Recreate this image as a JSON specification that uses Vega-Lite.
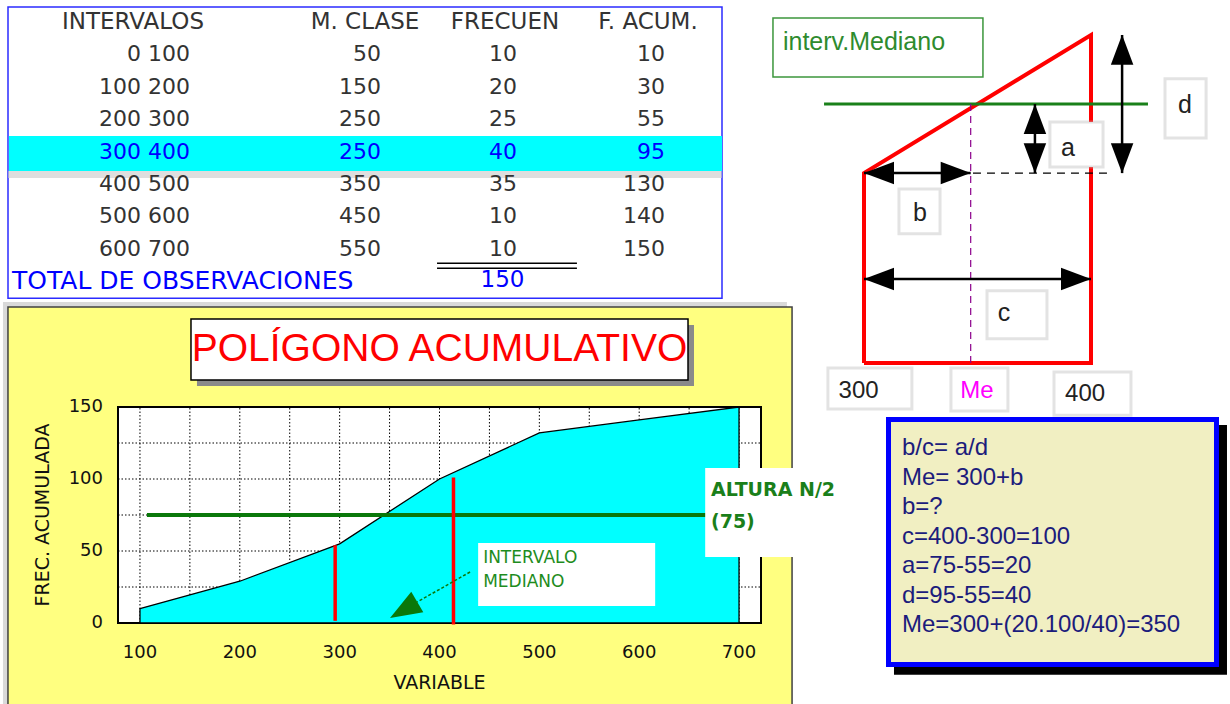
{
"$schema": "https://vega.github.io/schema/vega-lite/v6.json",
"width": 1230, "height": 704, "autosize": {"type": "none"}, "padding": 0, "background": "#ffffff",
"config": {"view": {"stroke": null}, "font": "DejaVu Sans", "axis": {"disable": true}},
"resolve": {"scale": {"x": "independent", "y": "independent"}},
"layer": [
 {
  "data": {"values": [
   {"fila": 1, "intervalo": "0 100", "marca": 50, "frec": 10, "acum": 10},
   {"fila": 2, "intervalo": "100 200", "marca": 150, "frec": 20, "acum": 30},
   {"fila": 3, "intervalo": "200 300", "marca": 250, "frec": 25, "acum": 55},
   {"fila": 4, "intervalo": "300 400", "marca": 250, "frec": 40, "acum": 95},
   {"fila": 5, "intervalo": "400 500", "marca": 350, "frec": 35, "acum": 130},
   {"fila": 6, "intervalo": "500 600", "marca": 450, "frec": 10, "acum": 140},
   {"fila": 7, "intervalo": "600 700", "marca": 550, "frec": 10, "acum": 150}
  ]},
  "layer": [
   {"data": {"values": [{}]}, "mark": {"type": "rect", "fill": "#ffffff", "stroke": "#2b2bff", "strokeWidth": 1.5},
    "encoding": {"x": {"datum": 0, "type": "quantitative", "scale": {"domain": [0,1,2,3,4,5], "range": [8,190,381,517,665,722], "zero": false, "nice": false}},
                 "x2": {"datum": 5},
                 "y": {"datum": -0.46, "type": "quantitative", "scale": {"domain": [0,8], "range": [22,281], "zero": false, "nice": false}},
                 "y2": {"datum": 8.53}}},
   {"data": {"values": [{}]}, "mark": {"type": "rect", "fill": "#c8c8c8", "opacity": 0.6},
    "encoding": {"x": {"datum": 0}, "x2": {"datum": 5}, "y": {"datum": 4.6}, "y2": {"datum": 4.82}}},
   {"data": {"values": [{}]}, "mark": {"type": "rect", "fill": "#00ffff"},
    "encoding": {"x": {"datum": 0.005}, "x2": {"datum": 5}, "y": {"datum": 3.52}, "y2": {"datum": 4.6}}},
   {"mark": {"type": "text", "align": "right", "baseline": "middle", "fontSize": 22},
    "encoding": {"x": {"datum": 1}, "y": {"field": "fila", "type": "quantitative"}, "text": {"field": "intervalo"},
                 "color": {"condition": {"test": "datum.fila === 4", "value": "#0000ff"}, "value": "#333333"}}},
   {"mark": {"type": "text", "align": "right", "baseline": "middle", "fontSize": 22},
    "encoding": {"x": {"datum": 2}, "y": {"field": "fila", "type": "quantitative"}, "text": {"field": "marca"},
                 "color": {"condition": {"test": "datum.fila === 4", "value": "#0000ff"}, "value": "#333333"}}},
   {"mark": {"type": "text", "align": "right", "baseline": "middle", "fontSize": 22},
    "encoding": {"x": {"datum": 3}, "y": {"field": "fila", "type": "quantitative"}, "text": {"field": "frec"},
                 "color": {"condition": {"test": "datum.fila === 4", "value": "#0000ff"}, "value": "#333333"}}},
   {"mark": {"type": "text", "align": "right", "baseline": "middle", "fontSize": 22},
    "encoding": {"x": {"datum": 4}, "y": {"field": "fila", "type": "quantitative"}, "text": {"field": "acum"},
                 "color": {"condition": {"test": "datum.fila === 4", "value": "#0000ff"}, "value": "#333333"}}},
   {"data": {"values": [{}]}, "mark": {"type": "rule", "stroke": "#000000", "strokeWidth": 1.5},
    "encoding": {"x": {"datum": 2.412}, "x2": {"datum": 3.405}, "y": {"datum": 7.453}}},
   {"data": {"values": [{}]}, "mark": {"type": "rule", "stroke": "#000000", "strokeWidth": 1.5},
    "encoding": {"x": {"datum": 2.412}, "x2": {"datum": 3.405}, "y": {"datum": 7.608}}},
   {"data": {"values": [{"etiqueta": "TOTAL DE OBSERVACIONES"}]}, "mark": {"type": "text", "align": "left", "baseline": "middle", "fontSize": 25, "fill": "#0000ff"},
    "encoding": {"x": {"datum": 0.022}, "y": {"datum": 8}, "text": {"field": "etiqueta"}}},
   {"transform": [{"aggregate": [{"op": "sum", "field": "frec", "as": "total"}]}],
    "mark": {"type": "text", "align": "right", "baseline": "middle", "fontSize": 23, "fill": "#0000ff"},
    "encoding": {"x": {"datum": 3.05}, "y": {"datum": 7.97}, "text": {"field": "total", "type": "quantitative"}}}
  ]
 },
 {
  "data": {"values": [
   {"col": 1, "encabezado": "INTERVALOS"},
   {"col": 2, "encabezado": "M. CLASE"},
   {"col": 3, "encabezado": "FRECUEN"},
   {"col": 4, "encabezado": "F. ACUM."}
  ]},
  "mark": {"type": "text", "align": "center", "baseline": "middle", "fontSize": 23, "fill": "#333333"},
  "encoding": {"x": {"field": "col", "type": "quantitative", "scale": {"domain": [0,1,2,3,4,5], "range": [8,133,365,505,648,722], "zero": false, "nice": false}},
               "y": {"datum": 0, "type": "quantitative", "scale": {"domain": [0,8], "range": [22,281], "zero": false, "nice": false}},
               "text": {"field": "encabezado"}}
 },
 {
  "data": {"values": [
   {"variable": 100, "frec": 10}, {"variable": 200, "frec": 29}, {"variable": 300, "frec": 55},
   {"variable": 400, "frec": 100}, {"variable": 500, "frec": 132}, {"variable": 600, "frec": 141},
   {"variable": 700, "frec": 150}
  ]},
  "layer": [
   {"data": {"values": [{}]}, "mark": {"type": "rect", "fill": "#b4b4b4", "opacity": 0.5},
    "encoding": {"x": {"datum": -37.2, "type": "quantitative", "scale": {"domain": [78,722], "range": [118,761], "zero": false, "nice": false}},
                 "x2": {"datum": 748},
                 "y": {"datum": -60, "type": "quantitative", "scale": {"domain": [0,150], "range": [623,407], "zero": false, "nice": false}},
                 "y2": {"datum": 222.9}}},
   {"data": {"values": [{}]}, "mark": {"type": "rect", "fill": "#ffff80", "stroke": "#404040", "strokeWidth": 1.5},
    "encoding": {"x": {"datum": -32.2}, "x2": {"datum": 753.1}, "y": {"datum": -60}, "y2": {"datum": 219.4}}},
   {"data": {"values": [{}]}, "mark": {"type": "rect", "fill": "#8a8a8a"},
    "encoding": {"x": {"datum": 157.1}, "x2": {"datum": 654.9}, "y": {"datum": 164.6}, "y2": {"datum": 207}}},
   {"data": {"values": [{}]}, "mark": {"type": "rect", "fill": "#ffffff", "stroke": "#000000", "strokeWidth": 1.5},
    "encoding": {"x": {"datum": 151.1}, "x2": {"datum": 648.9}, "y": {"datum": 168.75}, "y2": {"datum": 211.1}}},
   {"data": {"values": [{"titulo": "POLÍGONO ACUMULATIVO"}]}, "mark": {"type": "text", "font": "Liberation Sans", "fontSize": 39, "fill": "#ff0000", "align": "center", "baseline": "middle"},
    "encoding": {"x": {"datum": 400}, "y": {"datum": 190.3}, "text": {"field": "titulo"}}},
   {"data": {"values": [{}]}, "mark": {"type": "rect", "fill": "#ffffff", "stroke": "#000000", "strokeWidth": 2},
    "encoding": {"x": {"datum": 78}, "x2": {"datum": 722}, "y": {"datum": 0}, "y2": {"datum": 150}}},
   {"data": {"values": [{"g": 100},{"g": 150},{"g": 200},{"g": 250},{"g": 300},{"g": 350},{"g": 400},{"g": 450},{"g": 500},{"g": 550},{"g": 600},{"g": 650},{"g": 700}]},
    "mark": {"type": "rule", "stroke": "#000000", "strokeWidth": 1, "strokeDash": [1.5, 2]},
    "encoding": {"x": {"field": "g", "type": "quantitative"}, "y": {"datum": 0}, "y2": {"datum": 150}}},
   {"data": {"values": [{"g": 25},{"g": 50},{"g": 75},{"g": 100},{"g": 125}]},
    "mark": {"type": "rule", "stroke": "#000000", "strokeWidth": 1, "strokeDash": [1.5, 2]},
    "encoding": {"y": {"field": "g", "type": "quantitative"}, "x": {"datum": 78}, "x2": {"datum": 722}}},
   {"mark": {"type": "area", "fill": "#00ffff", "stroke": "#000000", "strokeWidth": 1.3},
    "encoding": {"x": {"field": "variable", "type": "quantitative"}, "y": {"field": "frec", "type": "quantitative"}, "y2": {"datum": 0}}},
   {"data": {"values": [{}]}, "mark": {"type": "rule", "stroke": "#0a780a", "strokeWidth": 4},
    "encoding": {"x": {"datum": 107}, "x2": {"datum": 700}, "y": {"datum": 75}}},
   {"data": {"values": [{}]}, "mark": {"type": "rule", "stroke": "#ff0000", "strokeWidth": 3.5},
    "encoding": {"x": {"datum": 295.5}, "y": {"datum": 1.5}, "y2": {"datum": 54}}},
   {"data": {"values": [{}]}, "mark": {"type": "rule", "stroke": "#ff0000", "strokeWidth": 3.5},
    "encoding": {"x": {"datum": 414}, "y": {"datum": -1}, "y2": {"datum": 101}}},
   {"data": {"values": [{}]}, "mark": {"type": "rect", "fill": "#ffffff"},
    "encoding": {"x": {"datum": 438.7}, "x2": {"datum": 616}, "y": {"datum": 11.8}, "y2": {"datum": 55.6}}},
   {"data": {"values": [{"t": "INTERVALO"}]}, "mark": {"type": "text", "fontSize": 17, "fill": "#1e8c1e", "align": "left", "baseline": "middle"},
    "encoding": {"x": {"datum": 443.7}, "y": {"datum": 45.1}, "text": {"field": "t"}}},
   {"data": {"values": [{"t": "MEDIANO"}]}, "mark": {"type": "text", "fontSize": 17, "fill": "#1e8c1e", "align": "left", "baseline": "middle"},
    "encoding": {"x": {"datum": 443.7}, "y": {"datum": 28.5}, "text": {"field": "t"}}},
   {"data": {"values": [{}]}, "mark": {"type": "rule", "stroke": "#0a780a", "strokeWidth": 1.5, "strokeDash": [3, 2]},
    "encoding": {"x": {"datum": 430.6}, "y": {"datum": 35.4}, "x2": {"datum": 377.7}, "y2": {"datum": 14.6}}},
   {"data": {"values": [{}]}, "mark": {"type": "point", "shape": "M1,0L-1,-0.75L-1,0.75Z", "filled": true, "color": "#0a780a", "opacity": 1, "size": 1000, "angle": 149.5},
    "encoding": {"x": {"datum": 364.1}, "y": {"datum": 9.0}}},
   {"data": {"values": [{}]}, "mark": {"type": "rect", "fill": "#ffffff"},
    "encoding": {"x": {"datum": 666.1}, "x2": {"datum": 818.4}, "y": {"datum": 45.8}, "y2": {"datum": 107.6}}},
   {"data": {"values": [{"t": "ALTURA N/2"}]}, "mark": {"type": "text", "fontSize": 19, "fontWeight": "bold", "fill": "#1a7f1a", "align": "left", "baseline": "middle"},
    "encoding": {"x": {"datum": 671.9}, "y": {"datum": 92.4}, "text": {"field": "t"}}},
   {"data": {"values": [{"t": "(75)"}]}, "mark": {"type": "text", "fontSize": 19, "fontWeight": "bold", "fill": "#1a7f1a", "align": "left", "baseline": "middle"},
    "encoding": {"x": {"datum": 671.9}, "y": {"datum": 70.1}, "text": {"field": "t"}}},
   {"data": {"values": [{"v": 100},{"v": 200},{"v": 300},{"v": 400},{"v": 500},{"v": 600},{"v": 700}]},
    "mark": {"type": "text", "fontSize": 18, "fill": "#111111", "align": "center", "baseline": "middle"},
    "encoding": {"x": {"field": "v", "type": "quantitative"}, "y": {"datum": -20.8}, "text": {"field": "v", "type": "quantitative"}}},
   {"data": {"values": [{"v": 0},{"v": 50},{"v": 100},{"v": 150}]},
    "mark": {"type": "text", "fontSize": 18, "fill": "#111111", "align": "right", "baseline": "middle"},
    "encoding": {"y": {"field": "v", "type": "quantitative"}, "x": {"datum": 63}, "text": {"field": "v", "type": "quantitative"}}},
   {"data": {"values": [{"t": "VARIABLE"}]}, "mark": {"type": "text", "fontSize": 19, "fill": "#111111", "align": "center", "baseline": "middle"},
    "encoding": {"x": {"datum": 400}, "y": {"datum": -41.7}, "text": {"field": "t"}}},
   {"data": {"values": [{"t": "FREC. ACUMULADA"}]}, "mark": {"type": "text", "fontSize": 19, "fill": "#111111", "align": "center", "baseline": "middle", "angle": 270},
    "encoding": {"x": {"datum": 2.9}, "y": {"datum": 75}, "text": {"field": "t"}}}
  ]
 },
 {
  "data": {"values": [
   {"k": 1, "variable": 300, "frec": 0}, {"k": 2, "variable": 300, "frec": 55},
   {"k": 3, "variable": 400, "frec": 95}, {"k": 4, "variable": 400, "frec": 0},
   {"k": 5, "variable": 300, "frec": 0}
  ]},
  "layer": [
   {"data": {"values": [{}]}, "mark": {"type": "rect", "fill": "#ffffff", "stroke": "#3c963c", "strokeWidth": 1.5},
    "encoding": {"x": {"datum": 259.9, "type": "quantitative", "scale": {"domain": [300,400], "range": [864,1091], "zero": false, "nice": false}},
                 "x2": {"datum": 352.4},
                 "y": {"datum": 82.8, "type": "quantitative", "scale": {"domain": [0,95], "range": [363,35], "zero": false, "nice": false}},
                 "y2": {"datum": 99.9}}},
   {"data": {"values": [{"t": "interv.Mediano"}]}, "mark": {"type": "text", "font": "Liberation Sans", "fontSize": 25, "fill": "#2e8b2e", "align": "left", "baseline": "middle"},
    "encoding": {"x": {"datum": 264.3}, "y": {"datum": 93}, "text": {"field": "t"}}},
   {"mark": {"type": "line", "stroke": "#ff0000", "strokeWidth": 4, "strokeJoin": "miter"},
    "encoding": {"x": {"field": "variable", "type": "quantitative"}, "y": {"field": "frec", "type": "quantitative"}, "order": {"field": "k"}}},
   {"data": {"values": [{}]}, "mark": {"type": "rule", "stroke": "#1a801a", "strokeWidth": 3},
    "encoding": {"x": {"datum": 282.4}, "x2": {"datum": 425.1}, "y": {"datum": 75}}},
   {"data": {"values": [{}]}, "mark": {"type": "rule", "stroke": "#8b008b", "strokeWidth": 1.2, "strokeDash": [7, 5]},
    "encoding": {"x": {"datum": 347}, "y": {"datum": 0}, "y2": {"datum": 75}}},
   {"data": {"values": [{}]}, "mark": {"type": "rule", "stroke": "#000000", "strokeWidth": 1.2, "strokeDash": [8, 6]},
    "encoding": {"x": {"datum": 348}, "x2": {"datum": 407.5}, "y": {"datum": 55}}},
   {"data": {"values": [{}]}, "mark": {"type": "rule", "stroke": "#000000", "strokeWidth": 2.5},
    "encoding": {"x": {"datum": 300}, "x2": {"datum": 347}, "y": {"datum": 55}}},
   {"data": {"values": [{}]}, "mark": {"type": "rule", "stroke": "#000000", "strokeWidth": 2.5},
    "encoding": {"x": {"datum": 300}, "x2": {"datum": 400}, "y": {"datum": 24.3}}},
   {"data": {"values": [{}]}, "mark": {"type": "rule", "stroke": "#000000", "strokeWidth": 2.5},
    "encoding": {"x": {"datum": 375.3}, "y": {"datum": 55}, "y2": {"datum": 75}}},
   {"data": {"values": [{}]}, "mark": {"type": "rule", "stroke": "#000000", "strokeWidth": 2.5},
    "encoding": {"x": {"datum": 413.7}, "y": {"datum": 55}, "y2": {"datum": 95}}},
   {"data": {"values": [{}]}, "mark": {"type": "point", "shape": "M1,0L-1,-0.75L-1,0.75Z", "filled": true, "color": "#000000", "opacity": 1, "size": 900, "angle": 180},
    "encoding": {"x": {"datum": 306.6}, "y": {"datum": 55}}},
   {"data": {"values": [{}]}, "mark": {"type": "point", "shape": "M1,0L-1,-0.75L-1,0.75Z", "filled": true, "color": "#000000", "opacity": 1, "size": 900, "angle": 0},
    "encoding": {"x": {"datum": 340.4}, "y": {"datum": 55}}},
   {"data": {"values": [{}]}, "mark": {"type": "point", "shape": "M1,0L-1,-0.75L-1,0.75Z", "filled": true, "color": "#000000", "opacity": 1, "size": 900, "angle": 180},
    "encoding": {"x": {"datum": 306.6}, "y": {"datum": 24.3}}},
   {"data": {"values": [{}]}, "mark": {"type": "point", "shape": "M1,0L-1,-0.75L-1,0.75Z", "filled": true, "color": "#000000", "opacity": 1, "size": 900, "angle": 0},
    "encoding": {"x": {"datum": 393.4}, "y": {"datum": 24.3}}},
   {"data": {"values": [{}]}, "mark": {"type": "point", "shape": "M1,0L-1,-0.75L-1,0.75Z", "filled": true, "color": "#000000", "opacity": 1, "size": 900, "angle": 270},
    "encoding": {"x": {"datum": 375.3}, "y": {"datum": 70.7}}},
   {"data": {"values": [{}]}, "mark": {"type": "point", "shape": "M1,0L-1,-0.75L-1,0.75Z", "filled": true, "color": "#000000", "opacity": 1, "size": 900, "angle": 90},
    "encoding": {"x": {"datum": 375.3}, "y": {"datum": 59.3}}},
   {"data": {"values": [{}]}, "mark": {"type": "point", "shape": "M1,0L-1,-0.75L-1,0.75Z", "filled": true, "color": "#000000", "opacity": 1, "size": 900, "angle": 270},
    "encoding": {"x": {"datum": 413.7}, "y": {"datum": 90.7}}},
   {"data": {"values": [{}]}, "mark": {"type": "point", "shape": "M1,0L-1,-0.75L-1,0.75Z", "filled": true, "color": "#000000", "opacity": 1, "size": 900, "angle": 90},
    "encoding": {"x": {"datum": 413.7}, "y": {"datum": 59.3}}},
   {"data": {"values": [{}]}, "mark": {"type": "rect", "fill": "#ffffff", "stroke": "#b8b8b8", "strokeWidth": 3, "strokeOpacity": 0.4},
    "encoding": {"x": {"datum": 432.6}, "x2": {"datum": 450.7}, "y": {"datum": 65.2}, "y2": {"datum": 82.3}}},
   {"data": {"values": [{"t": "d"}]}, "mark": {"type": "text", "font": "Liberation Sans", "fontSize": 25, "fill": "#222222", "align": "center", "baseline": "middle"},
    "encoding": {"x": {"datum": 441.4}, "y": {"datum": 74.7}, "text": {"field": "t"}}},
   {"data": {"values": [{}]}, "mark": {"type": "rect", "fill": "#ffffff", "stroke": "#b8b8b8", "strokeWidth": 3, "strokeOpacity": 0.4},
    "encoding": {"x": {"datum": 381.9}, "x2": {"datum": 405.3}, "y": {"datum": 56.8}, "y2": {"datum": 69.8}}},
   {"data": {"values": [{"t": "a"}]}, "mark": {"type": "text", "font": "Liberation Sans", "fontSize": 25, "fill": "#222222", "align": "center", "baseline": "middle"},
    "encoding": {"x": {"datum": 389.9}, "y": {"datum": 62.2}, "text": {"field": "t"}}},
   {"data": {"values": [{}]}, "mark": {"type": "rect", "fill": "#ffffff", "stroke": "#b8b8b8", "strokeWidth": 3, "strokeOpacity": 0.4},
    "encoding": {"x": {"datum": 315.4}, "x2": {"datum": 333.5}, "y": {"datum": 37.4}, "y2": {"datum": 50.4}}},
   {"data": {"values": [{"t": "b"}]}, "mark": {"type": "text", "font": "Liberation Sans", "fontSize": 25, "fill": "#222222", "align": "center", "baseline": "middle"},
    "encoding": {"x": {"datum": 324.7}, "y": {"datum": 43.4}, "text": {"field": "t"}}},
   {"data": {"values": [{}]}, "mark": {"type": "rect", "fill": "#ffffff", "stroke": "#b8b8b8", "strokeWidth": 3, "strokeOpacity": 0.4},
    "encoding": {"x": {"datum": 354.2}, "x2": {"datum": 380.6}, "y": {"datum": 7.0}, "y2": {"datum": 20.9}}},
   {"data": {"values": [{"t": "c"}]}, "mark": {"type": "text", "font": "Liberation Sans", "fontSize": 25, "fill": "#222222", "align": "center", "baseline": "middle"},
    "encoding": {"x": {"datum": 361.7}, "y": {"datum": 14.4}, "text": {"field": "t"}}},
   {"data": {"values": [{}]}, "mark": {"type": "rect", "fill": "#ffffff", "stroke": "#b8b8b8", "strokeWidth": 3, "strokeOpacity": 0.4},
    "encoding": {"x": {"datum": 284.1}, "x2": {"datum": 321.1}, "y": {"datum": -13.3}, "y2": {"datum": -1.45}}},
   {"data": {"values": [{"t": "300"}]}, "mark": {"type": "text", "font": "Liberation Sans", "fontSize": 24, "fill": "#222222", "align": "center", "baseline": "middle"},
    "encoding": {"x": {"datum": 297.6}, "y": {"datum": -8.2}, "text": {"field": "t"}}},
   {"data": {"values": [{}]}, "mark": {"type": "rect", "fill": "#ffffff", "stroke": "#b8b8b8", "strokeWidth": 3, "strokeOpacity": 0.4},
    "encoding": {"x": {"datum": 338.3}, "x2": {"datum": 363.4}, "y": {"datum": -13.9}, "y2": {"datum": -1.45}}},
   {"data": {"values": [{"t": "Me"}]}, "mark": {"type": "text", "font": "Liberation Sans", "fontSize": 24, "fill": "#ff00ff", "align": "center", "baseline": "middle"},
    "encoding": {"x": {"datum": 349.8}, "y": {"datum": -8.2}, "text": {"field": "t"}}},
   {"data": {"values": [{}]}, "mark": {"type": "rect", "fill": "#ffffff", "stroke": "#b8b8b8", "strokeWidth": 3, "strokeOpacity": 0.4},
    "encoding": {"x": {"datum": 383.7}, "x2": {"datum": 417.6}, "y": {"datum": -15.1}, "y2": {"datum": -2.6}}},
   {"data": {"values": [{"t": "400"}]}, "mark": {"type": "text", "font": "Liberation Sans", "fontSize": 24, "fill": "#222222", "align": "center", "baseline": "middle"},
    "encoding": {"x": {"datum": 397.4}, "y": {"datum": -9.1}, "text": {"field": "t"}}}
  ]
 },
 {
  "data": {"values": [
   {"linea": 1, "texto": "b/c= a/d"},
   {"linea": 2, "texto": "Me= 300+b"},
   {"linea": 3, "texto": "b=?"},
   {"linea": 4, "texto": "c=400-300=100"},
   {"linea": 5, "texto": "a=75-55=20"},
   {"linea": 6, "texto": "d=95-55=40"},
   {"linea": 7, "texto": "Me=300+(20.100/40)=350"}
  ]},
  "layer": [
   {"data": {"values": [{}]}, "mark": {"type": "rect", "fill": "#000000"},
    "encoding": {"x": {"datum": 0.024, "type": "quantitative", "scale": {"domain": [0,1], "range": [886,1219], "zero": false, "nice": false}},
                 "x2": {"datum": 1.024},
                 "y": {"datum": 0.22, "type": "quantitative", "scale": {"domain": [1,7], "range": [448,625], "zero": false, "nice": false}},
                 "y2": {"datum": 8.69}}},
   {"data": {"values": [{}]}, "mark": {"type": "rect", "fill": "#f1efc2", "stroke": "#0000ff", "strokeWidth": 5},
    "encoding": {"x": {"datum": 0.0075}, "x2": {"datum": 0.9925}, "y": {"datum": 0.035}, "y2": {"datum": 8.34}}},
   {"mark": {"type": "text", "font": "Liberation Sans", "fontSize": 24, "fill": "#1c1c7c", "align": "left", "baseline": "middle"},
    "encoding": {"x": {"datum": 0.048}, "y": {"field": "linea", "type": "quantitative"}, "text": {"field": "texto"}}}
  ]
 }
]
}
